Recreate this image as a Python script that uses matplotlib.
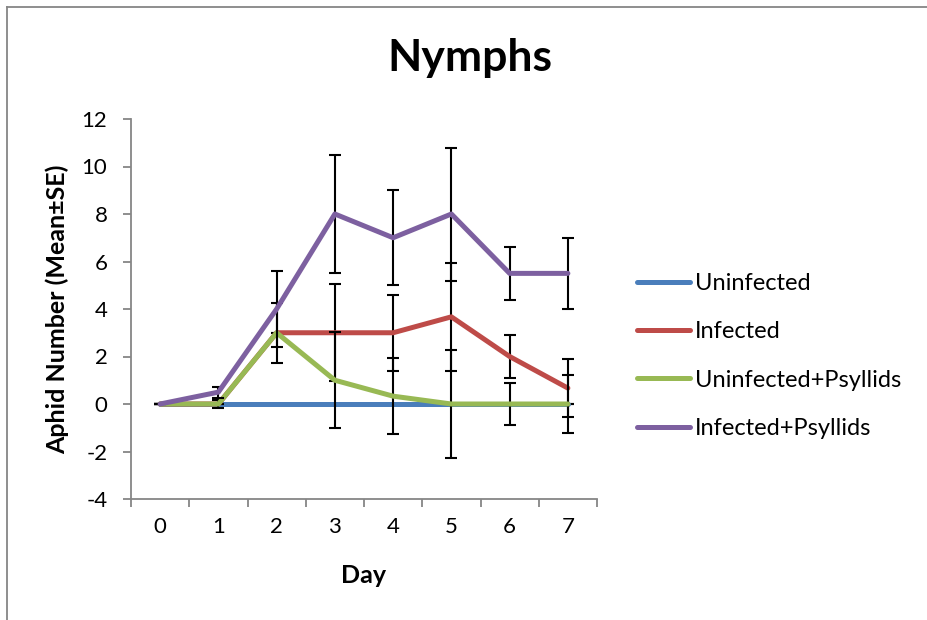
import matplotlib
matplotlib.use("Agg")
import matplotlib.pyplot as plt
from matplotlib.lines import Line2D
from matplotlib.ticker import FixedLocator

# data
days = [0, 1, 2, 3, 4, 5, 6, 7]
uninfected = [0, 0, 0, 0, 0, 0, 0, 0]
uninfected_err = [0, 0, 0, 0, 0, 0, 0, 0]
infected = [0, 0, 3, 3, 3, 3.67, 2, 0.67]
infected_err = [0, 0, 0, 2.05, 1.6, 2.27, 0.9, 1.22]
uninf_psy = [0, 0, 3, 1, 0.33, 0, 0, 0]
uninf_psy_err = [0, 0.17, 1.27, 2.02, 1.6, 2.27, 0.9, 1.22]
inf_psy = [0, 0.5, 4, 8, 7, 8, 5.5, 5.5]
inf_psy_err = [0, 0.23, 1.6, 2.5, 2, 2.8, 1.1, 1.5]

series = [
    ("Uninfected", uninfected, uninfected_err, "#4a7ebb"),
    ("Infected", infected, infected_err, "#be4b48"),
    ("Uninfected+Psyllids", uninf_psy, uninf_psy_err, "#98b954"),
    ("Infected+Psyllids", inf_psy, inf_psy_err, "#7d60a0"),
]

plt.rcParams["font.family"] = ["Lato", "DejaVu Sans"]
plt.rcParams["axes.unicode_minus"] = False
axis_grey = "#868686"

fig = plt.figure(figsize=(9.27, 6.2), dpi=100)
ax = fig.add_axes([131 / 927, 121 / 620, 466 / 927, 380 / 620])

for i, (name, vals, err, col) in enumerate(series):
    ax.errorbar(days, vals, yerr=err, fmt="none", ecolor="black",
                elinewidth=1.5, capsize=4.5, capthick=1.5, zorder=2 + i * 2)
    ax.plot(days, vals, color=col, linewidth=3.6, solid_capstyle="round",
            label=name, zorder=3 + i * 2)

ax.set_xlim(-0.5, 7.5)
ax.set_ylim(-4, 12)
ax.set_yticks(range(-4, 13, 2))
ax.set_xticks(days)
ax.xaxis.set_minor_locator(FixedLocator([d - 0.5 for d in days] + [7.5]))
ax.tick_params(axis="x", which="major", length=0, pad=13, labelsize=16)
ax.tick_params(axis="x", which="minor", length=6, width=1.3, color=axis_grey)
ax.tick_params(axis="y", length=6, width=1.3, color=axis_grey, pad=11,
               labelsize=16)

for side in ("top", "right"):
    ax.spines[side].set_visible(False)
for side in ("left", "bottom"):
    ax.spines[side].set_color(axis_grey)
    ax.spines[side].set_linewidth(1.3)

ax.set_xlabel("Day", fontsize=18, fontweight="bold")
ax.xaxis.set_label_coords(0.5, -0.17)
ax.set_ylabel("Aphid Number (Mean\u00b1SE)", fontsize=18, fontweight="bold")
ax.yaxis.set_label_coords(-0.133, 0.5)

fig.text(470 / 927, 1 - 58 / 620, "Nymphs", ha="center", va="center",
         fontsize=32, fontweight="bold")

ax.legend(loc="center left", bbox_to_anchor=(637 / 927, 1 - 356 / 620),
          bbox_transform=fig.transFigure, frameon=False, fontsize=17,
          handlelength=2.25, handletextpad=0.2, labelspacing=1.16,
          borderpad=0, borderaxespad=0)

# outer chart border (top and left edges only are visible)
fig.add_artist(Line2D([6.5 / 927, 6.5 / 927], [0, 1 - 6.5 / 620],
                      color=axis_grey, linewidth=1.3))
fig.add_artist(Line2D([6.5 / 927, 1], [1 - 6.5 / 620, 1 - 6.5 / 620],
                      color=axis_grey, linewidth=1.3))

fig.savefig("out.png", dpi=100)
